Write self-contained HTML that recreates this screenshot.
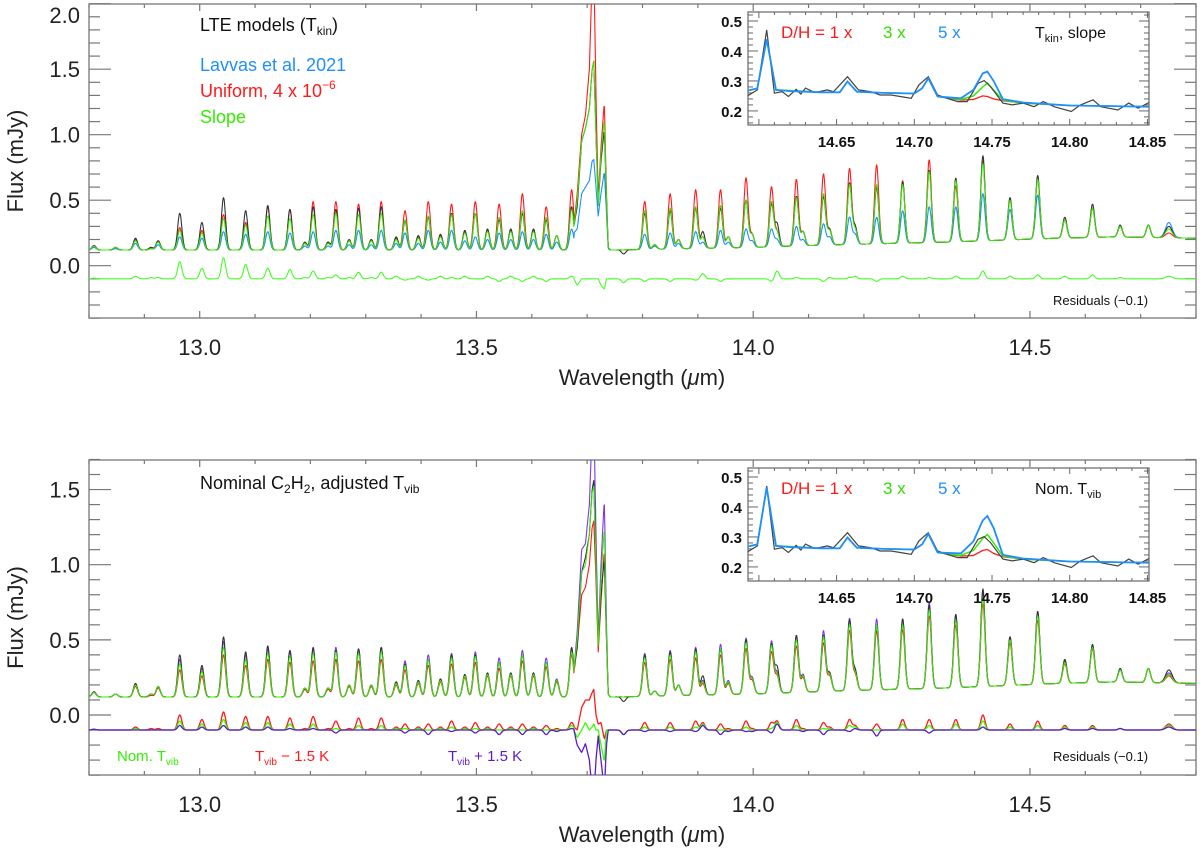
<!DOCTYPE html>
<html><head><meta charset="utf-8">
<style>
html,body{margin:0;padding:0;background:#fff;}
svg{display:block;font-family:"Liberation Sans","DejaVu Sans",sans-serif;}
</style></head>
<body>
<svg id="chart" width="1200" height="850" viewBox="0 0 1200 850" xmlns="http://www.w3.org/2000/svg">
<rect x="0" y="0" width="1200" height="850" fill="#fff"/>
<defs>
<clipPath id="clipTop"><rect x="89" y="4" width="1107" height="314"/></clipPath>
<clipPath id="clipBot"><rect x="89" y="460" width="1107" height="315"/></clipPath>
<clipPath id="clipInTop"><rect x="748" y="12" width="401" height="113"/></clipPath>
<clipPath id="clipInBot"><rect x="748" y="468" width="401" height="113"/></clipPath>
</defs>
<g id="layer"></g>
</svg>
<script>
// ---------- DATA ----------
const baseLam = [12.8, 13.4, 13.75, 14.0, 14.15, 14.35, 14.55, 14.65, 14.8];
const baseVal = [0.12, 0.12, 0.12, 0.14, 0.16, 0.18, 0.21, 0.22, 0.21];
const lineLam = [12.809,12.848,12.884,12.912,12.925,12.964,13.004,13.043,13.083,13.123,13.163,13.190,13.205,13.232,13.246,13.270,13.287,13.310,13.328,13.355,13.371,13.395,13.413,13.435,13.455,13.479,13.498,13.520,13.541,13.562,13.583,13.603,13.626,13.645,13.672,
13.766,13.804,13.822,13.850,13.865,13.896,13.909,13.941,13.955,13.987,13.998,14.033,14.043,14.078,14.090,14.127,14.138,14.174,14.184,14.223,14.270,14.318,14.366,14.415,14.464,14.514,14.563,14.613,14.663,14.714,14.751];
const obsPeak = [.155,.14,.21,.14,.19,.40,.33,.52,.42,.46,.43,.18,.45,.18,.43,.20,.44,.20,.45,.22,.34,.23,.37,.24,.40,.27,.40,.28,.35,.28,.40,.28,.35,.23,.45,
.09,.40,.16,.42,.20,.44,.26,.44,.22,.50,.24,.47,.32,.53,.26,.53,.28,.63,.30,.60,.64,.73,.67,.84,.52,.69,.37,.47,.31,.31,.30];
const redPeak = [.15,.14,.20,.13,.19,.29,.27,.39,.33,.45,.43,.17,.49,.18,.49,.19,.47,.20,.49,.21,.42,.22,.49,.23,.47,.26,.49,.27,.47,.27,.55,.27,.45,.23,.58,
.12,.49,.16,.55,.20,.58,.22,.58,.22,.67,.24,.60,.26,.66,.26,.70,.27,.74,.28,.77,.65,.81,.61,.80,.50,.66,.35,.44,.30,.31,.25];
const slopePeak = [.15,.14,.19,.13,.18,.27,.25,.36,.31,.38,.36,.17,.39,.17,.40,.19,.39,.19,.40,.20,.35,.21,.38,.22,.39,.25,.40,.26,.37,.26,.42,.26,.37,.23,.43,
.12,.42,.16,.44,.20,.45,.22,.46,.22,.50,.24,.49,.26,.52,.26,.55,.27,.62,.28,.62,.62,.72,.65,.78,.50,.66,.35,.44,.30,.31,.28];
const lavvasPeak = [.14,.13,.17,.13,.16,.22,.21,.26,.24,.26,.25,.15,.26,.15,.27,.16,.27,.16,.27,.17,.25,.17,.27,.18,.27,.19,.22,.20,.25,.20,.26,.20,.24,.18,.28,
.12,.24,.15,.25,.17,.26,.18,.27,.18,.28,.19,.28,.20,.30,.20,.32,.22,.37,.24,.37,.42,.45,.45,.55,.43,.54,.35,.44,.30,.31,.33];
const nomPeak = [.15,.14,.20,.14,.19,.34,.29,.45,.37,.41,.39,.18,.41,.18,.42,.20,.41,.20,.42,.21,.33,.22,.37,.23,.38,.26,.39,.27,.35,.27,.40,.27,.35,.23,.42,
.12,.38,.16,.40,.20,.42,.22,.44,.22,.48,.24,.46,.27,.50,.26,.52,.27,.60,.28,.60,.60,.70,.63,.78,.50,.66,.35,.45,.30,.31,.27];
const minusPeak = [.15,.14,.19,.13,.18,.30,.26,.40,.33,.37,.35,.17,.36,.17,.37,.19,.36,.19,.37,.20,.30,.21,.33,.22,.34,.25,.35,.26,.31,.26,.36,.26,.32,.22,.40,
.12,.35,.16,.37,.20,.38,.21,.40,.21,.44,.23,.42,.26,.46,.25,.48,.26,.56,.27,.56,.57,.66,.60,.74,.48,.63,.34,.44,.30,.31,.26];
const plusPeak = [.15,.14,.21,.14,.19,.37,.31,.49,.40,.44,.42,.18,.44,.18,.45,.20,.44,.20,.45,.22,.36,.23,.40,.24,.41,.27,.42,.28,.38,.28,.43,.28,.38,.24,.44,
.12,.41,.16,.43,.20,.45,.23,.47,.23,.51,.25,.49,.28,.53,.27,.56,.28,.64,.29,.64,.64,.75,.67,.82,.52,.69,.36,.46,.30,.31,.28];
// Q-branch samples
const qLam   = [13.676,13.682,13.690,13.697,13.704,13.709,13.712,13.716,13.720,13.725,13.731,13.735,13.738,13.742];
const qObs   = [.30,.45,.95,1.05,1.20,1.50,1.56,1.00,.46,.80,1.04,.50,.14,.12];
const qRed   = [.30,.55,1.00,1.15,1.50,2.20,2.30,1.30,.50,.90,1.25,.55,.14,.12];
const qSlope = [.30,.50,.95,1.05,1.20,1.50,1.56,1.00,.46,.85,1.12,.50,.14,.12];
const qLavvas= [.25,.28,.55,.60,.65,.80,.81,.60,.38,.55,.72,.40,.13,.12];
const qNom   = [.30,.50,.95,1.00,1.20,1.48,1.52,1.00,.46,.90,1.25,.50,.14,.12];
const qMinus = [.28,.45,.80,.85,1.00,1.25,1.29,.90,.42,.75,1.10,.50,.14,.12];
const qPlus  = [.30,.55,1.10,1.14,1.40,1.90,2.00,1.20,.50,1.00,1.44,.60,.14,.12];
// inset data
const inObsLam = [14.593,14.599,14.605,14.610,14.615,14.619,14.624,14.627,14.630,14.636,14.644,14.648,14.657,14.664,14.672,14.678,14.685,14.691,14.698,14.703,14.709,14.715,14.721,14.728,14.734,14.741,14.745,14.749,14.757,14.763,14.770,14.777,14.783,14.790,14.801,14.807,14.815,14.820,14.831,14.838,14.844,14.851];
const inObsVal = [.251,.27,.47,.259,.264,.248,.272,.256,.276,.261,.270,.264,.314,.270,.264,.253,.253,.248,.242,.287,.314,.253,.242,.231,.231,.292,.301,.281,.226,.22,.226,.214,.231,.214,.198,.22,.237,.214,.203,.226,.209,.228];
const inModLam = [14.593,14.599,14.605,14.611,14.62,14.64,14.652,14.657,14.663,14.68,14.70,14.705,14.709,14.715,14.73,14.738,14.744,14.747,14.751,14.757,14.77,14.80,14.85,14.851];
const inRed1   = [.268,.275,.439,.27,.266,.262,.262,.298,.264,.26,.258,.275,.309,.248,.236,.238,.25,.248,.24,.234,.226,.218,.214,.214];
const inGreen1 = [.268,.275,.439,.27,.268,.262,.262,.298,.264,.26,.258,.275,.309,.248,.238,.25,.28,.292,.27,.236,.226,.218,.214,.214];
const inBlue1  = [.268,.275,.439,.27,.266,.262,.262,.298,.264,.26,.258,.275,.309,.248,.242,.27,.325,.331,.30,.239,.228,.218,.214,.214];
const inRed2   = [.268,.275,.465,.27,.266,.262,.262,.298,.264,.26,.258,.275,.31,.248,.236,.238,.255,.258,.245,.234,.226,.218,.214,.214];
const inGreen2 = [.268,.275,.465,.27,.268,.262,.262,.298,.264,.26,.258,.275,.31,.248,.238,.255,.295,.308,.28,.236,.226,.218,.214,.214];
const inBlue2  = [.268,.275,.465,.27,.266,.262,.262,.298,.264,.26,.258,.275,.31,.248,.245,.285,.355,.37,.33,.24,.228,.218,.214,.214];
const xTicks = [13.0, 13.5, 14.0, 14.5];
const xTickLabels = ["13.0","13.5","14.0","14.5"];
const yTicksTop = [0.0,0.5,1.0,1.5,2.0];
const yTicksBot = [0.0,0.5,1.0,1.5];
const inXTicks = [14.65,14.70,14.75,14.80,14.85];
const inYTicks = [0.2,0.3,0.4,0.5];

// ---------- HELPERS ----------
const NS = "http://www.w3.org/2000/svg";
const layer = document.getElementById('layer');
function mk(tag, attrs, parent){ const e=document.createElementNS(NS,tag); for(const k in attrs) e.setAttribute(k,attrs[k]); (parent||layer).appendChild(e); return e; }
function interp(xs, ys, x){ if(x<=xs[0]) return ys[0]; for(let i=1;i<xs.length;i++){ if(x<=xs[i]){ const t=(x-xs[i-1])/(xs[i]-xs[i-1]); return ys[i-1]+t*(ys[i]-ys[i-1]); } } return ys[ys.length-1]; }
function base(l){ return interp(baseLam, baseVal, l); }
function spec(l, peaks, q){
  let v = base(l);
  for(let i=0;i<lineLam.length;i++){
    const s = lineLam[i]>14.74 ? 0.006 : 0.0038;
    const d=(l-lineLam[i])/s; if(Math.abs(d)>5) continue;
    v += (peaks[i]-base(lineLam[i]))*Math.exp(-0.5*d*d);
  }
  if(l>=qLam[0] && l<=qLam[qLam.length-1]) v=Math.max(v, interp(qLam,q,l));
  return v;
}
const X0=89, X1=1196, L0=12.8, L1=14.8;
function xs(l){ return X0+(l-L0)/(L1-L0)*(X1-X0); }
function ysTop(v){ return 265.7-131*v; }
function ysBot(v){ return 715-150.3*v; }
const lams=[]; for(let l=L0;l<=L1+1e-9;l+=0.0008) lams.push(l);
function pathFrom(fn, yfun){ let d=''; lams.forEach((l,i)=>{ d+=(i?'L':'M')+xs(l).toFixed(1)+' '+yfun(fn(l)).toFixed(1); }); return d; }

// ---------- PANEL FRAMES ----------
function frame(top, bottom, yfun, yTicks, ymin, ymax, name){
  const g=mk('g',{});
  
  
  for(let v=Math.ceil(ymin*10)/10; v<=ymax+1e-9; v+=0.1){
    const y=yfun(v); const major=Math.abs(v*2-Math.round(v*2))<1e-6;
    const len=major?22:11;
    mk('line',{x1:X0,x2:X0+len,y1:y,y2:y,stroke:'#777','stroke-width':1.2},g);
    mk('line',{x1:X1,x2:X1-len,y1:y,y2:y,stroke:'#777','stroke-width':1.2},g);
  }
  for(let l=12.8; l<=14.8+1e-9; l+=0.1){
    const x=xs(l); const major=Math.abs(l*2-Math.round(l*2))<1e-6;
    const len=major?7:4;
    mk('line',{x1:x,x2:x,y1:bottom,y2:bottom-len,stroke:'#777','stroke-width':1.2},g);
    mk('line',{x1:x,x2:x,y1:top,y2:top+len,stroke:'#777','stroke-width':1.2},g);
  }
  mk('rect',{x:X0,y:top,width:X1-X0,height:bottom-top,fill:'none',stroke:'#777','stroke-width':1.3},g);
  yTicks.forEach(v=>{
    const t=mk('text',{x:80,y:Math.max(yfun(v)+8,23),'text-anchor':'end','font-size':22,fill:'#222'},g);
    
    
    t.textContent=v.toFixed(1);
  });
  xTicks.forEach((v,i)=>{
    const t=mk('text',{x:xs(v),y:bottom+37,'text-anchor':'middle','font-size':22,fill:'#222'},g);
    
    
    t.textContent=xTickLabels[i];
  });
  const xt=mk('text',{x:642,y:bottom+67,'text-anchor':'middle','font-size':22,fill:'#222'},g);
  
  
  xt.innerHTML='Wavelength (<tspan font-style="italic">μ</tspan>m)';
  const cy=(top+bottom)/2;
  const yt=mk('text',{x:0,y:0,'text-anchor':'middle','font-size':22,fill:'#222',transform:`translate(23,${cy}) rotate(-90)`},g);
  
  
  yt.textContent='Flux (mJy)';
}
frame(4,318,ysTop,yTicksTop,-0.4,2.0,'top-panel');
frame(460,775,ysBot,yTicksBot,-0.4,1.7,'bottom-panel');

// ---------- SERIES ----------
function series(fn, yfun, color, w, clip, name){
  const p=mk('path',{d:pathFrom(fn,yfun),fill:'none',stroke:color,'stroke-width':w,'clip-path':`url(#${clip})`,'stroke-linejoin':'round'});
  
  
}
const fObs=l=>spec(l,obsPeak,qObs);
series(l=>spec(l,lavvasPeak,qLavvas), ysTop, '#1e8fff', 1.1, 'clipTop', 'lavvas-model-line');
series(l=>spec(l,redPeak,qRed), ysTop, '#ff1a1a', 1.1, 'clipTop', 'uniform-model-line');
series(fObs, ysTop, '#333', 1.1, 'clipTop', 'observed-spectrum-top');
series(l=>spec(l,slopePeak,qSlope), ysTop, '#33ee00', 1.0, 'clipTop', 'slope-model-line');
series(l=>fObs(l)-spec(l,slopePeak,qSlope)-0.1, ysTop, '#44ff22', 1.1, 'clipTop', 'slope-residuals');
series(l=>spec(l,plusPeak,qPlus), ysBot, '#7a3be0', 1.1, 'clipBot', 'tvib-plus-model-line');
series(l=>spec(l,minusPeak,qMinus), ysBot, '#ff1a1a', 1.1, 'clipBot', 'tvib-minus-model-line');
series(fObs, ysBot, '#333', 1.1, 'clipBot', 'observed-spectrum-bottom');
series(l=>spec(l,nomPeak,qNom), ysBot, '#33ee00', 1.0, 'clipBot', 'nominal-model-line');
series(l=>fObs(l)-spec(l,minusPeak,qMinus)-0.1, ysBot, '#ff1a1a', 1.3, 'clipBot', 'tvib-minus-residuals');
series(l=>fObs(l)-spec(l,nomPeak,qNom)-0.1, ysBot, '#33ff00', 1.3, 'clipBot', 'nominal-residuals');
series(l=>fObs(l)-spec(l,plusPeak,qPlus)-0.1, ysBot, '#5a1ad0', 1.3, 'clipBot', 'tvib-plus-residuals');

// ---------- INSETS ----------
function inset(top, mods, label, name){
  const left=748, right=1149, bottom=top+113, lmin=14.593, lmax=14.851, vmin=0.153, vmax=0.53;
  const ix=l=>left+(l-lmin)/(lmax-lmin)*(right-left);
  const iy=v=>bottom-(v-vmin)/(vmax-vmin)*(bottom-top);
  const g=mk('g',{});
  
  
  mk('rect',{x:left,y:top,width:right-left,height:bottom-top,fill:'#fff',stroke:'#666','stroke-width':1.2},g);
  for(let v=0.16; v<=0.53; v+=0.02){ const y=iy(v); const major=Math.abs(v*10-Math.round(v*10))<1e-6;
    mk('line',{x1:left,x2:left+(major?10:5),y1:y,y2:y,stroke:'#666','stroke-width':1},g);
    mk('line',{x1:right,x2:right-(major?10:5),y1:y,y2:y,stroke:'#666','stroke-width':1},g); }
  for(let l=14.60; l<=14.851; l+=0.01){ const x=ix(l); const major=Math.abs(l*20-Math.round(l*20))<1e-6;
    mk('line',{x1:x,x2:x,y1:bottom,y2:bottom-(major?6:3),stroke:'#666','stroke-width':1},g);
    mk('line',{x1:x,x2:x,y1:top,y2:top+(major?6:3),stroke:'#666','stroke-width':1},g); }
  inYTicks.forEach(v=>{ const t=mk('text',{x:742,y:iy(v)+6,'text-anchor':'end','font-size':15,'font-weight':'bold',fill:'#111'},g);
    
    
    t.textContent=v.toFixed(1); });
  inXTicks.forEach(v=>{ const t=mk('text',{x:ix(v),y:bottom+22,'text-anchor':'middle','font-size':15,'font-weight':'bold',fill:'#111'},g);
    
    
    t.textContent=v.toFixed(2); });
  const clip = top<300?'clipInTop':'clipInBot';
  function poly(xsArr, vs, color, w, nm){ let d=''; xsArr.forEach((l,i)=>{ d+=(i?'L':'M')+ix(l).toFixed(1)+' '+iy(vs[i]).toFixed(1); });
    const p=mk('path',{d:d,fill:'none',stroke:color,'stroke-width':w,'clip-path':`url(#${clip})`},g);
    
     }
  poly(inModLam, mods[0], '#ff1a1a', 1.3, 'inset-dh-1x-line');
  poly(inModLam, mods[1], '#33ee00', 1.5, 'inset-dh-3x-line');
  poly(inObsLam, inObsVal, '#444', 1.2, 'inset-observed-line');
  poly(inModLam, mods[2], '#1e8fff', 1.8, 'inset-dh-5x-line');
  const t1=mk('text',{x:781,y:top+26,'font-size':17,fill:'#ff1a1a'},g); t1.textContent='D/H = 1 x';
   
  const t2=mk('text',{x:883,y:top+26,'font-size':17,fill:'#33dd00'},g); t2.textContent='3 x';
   
  const t3=mk('text',{x:938,y:top+26,'font-size':17,fill:'#1e8fff'},g); t3.textContent='5 x';
   
  const t4=mk('text',{x:1035,y:top+26,'font-size':16,fill:'#111'},g); t4.innerHTML=label;
   
}
inset(12,[inRed1,inGreen1,inBlue1],'T<tspan font-size="11" dy="4">kin</tspan><tspan dy="-4">, slope</tspan>','top-inset');
inset(468,[inRed2,inGreen2,inBlue2],'Nom. T<tspan font-size="11" dy="4">vib</tspan>','bottom-inset');
</script>
<svg style="position:absolute;left:0;top:0" width="1200" height="850" viewBox="0 0 1200 850" xmlns="http://www.w3.org/2000/svg">
<g font-family="Liberation Sans, DejaVu Sans, sans-serif">
<text x="200" y="31" font-size="18" fill="#111">LTE models (T<tspan font-size="12" dy="4">kin</tspan><tspan dy="-4">)</tspan></text>
<text x="200" y="71" font-size="18" fill="#1e8fff">Lavvas et al. 2021</text>
<text x="200" y="97" font-size="18" fill="#ff1a1a">Uniform, 4 x 10<tspan font-size="12" dy="-8">−6</tspan></text>
<text x="200" y="123" font-size="18" fill="#33ee00">Slope</text>
<text x="1053" y="305" font-size="13" fill="#111">Residuals (−0.1)</text>
<text x="200" y="489" font-size="18" fill="#111">Nominal C<tspan font-size="12" dy="4">2</tspan><tspan dy="-4">H</tspan><tspan font-size="12" dy="4">2</tspan><tspan dy="-4">, adjusted T</tspan><tspan font-size="12" dy="4">vib</tspan></text>
<text x="117" y="761" font-size="15" fill="#33ee00">Nom. T<tspan font-size="10" dy="4">vib</tspan></text>
<text x="255" y="761" font-size="15" fill="#ff1a1a">T<tspan font-size="10" dy="4">vib</tspan><tspan dy="-4"> − 1.5 K</tspan></text>
<text x="448" y="761" font-size="15" fill="#5a1ad0">T<tspan font-size="10" dy="4">vib</tspan><tspan dy="-4"> + 1.5 K</tspan></text>
<text x="1053" y="761" font-size="13" fill="#111">Residuals (−0.1)</text>
</g>
</svg>
</body></html>
